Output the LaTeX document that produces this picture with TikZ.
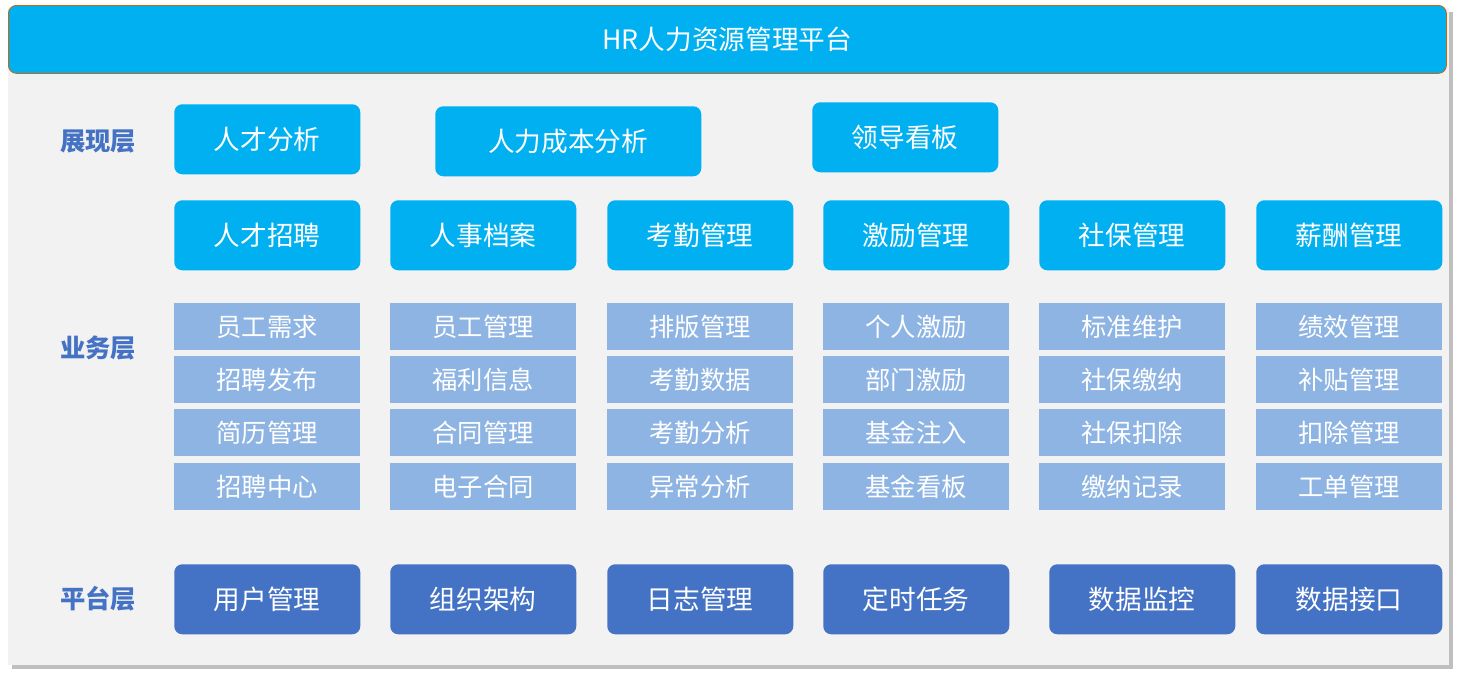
\documentclass[tikz,border=0pt]{standalone}
\usepackage{fontspec}
\newfontfamily\cjk{Noto Sans CJK SC}
\definecolor{cyanb}{HTML}{00B0F0}
\definecolor{lightb}{HTML}{8EB4E3}
\definecolor{darkb}{HTML}{4472C4}
\definecolor{panel}{HTML}{F2F2F2}
\begin{document}
\begin{tikzpicture}[x=0.75pt,y=-0.75pt,
  box/.style={rounded corners=6pt,fill=cyanb,text=white,font=\cjk\fontsize{20}{24}\selectfont,anchor=north west,inner sep=0pt},
  sub/.style={fill=lightb,text=white,font=\cjk\fontsize{19}{22}\selectfont,anchor=north west,inner sep=0pt,minimum height=35.25pt},
  plat/.style={box,fill=darkb},
  lay/.style={text=darkb,font=\cjk\bfseries\fontsize{19}{22}\selectfont}]
\useasboundingbox (0,0) rectangle (1457,675);
\fill[black!25] (12,12) rectangle (1453,669);
\fill[panel] (8,8) rectangle (1449,665);
\node[rounded corners=6pt,fill=cyanb,draw=orange!80!black,line width=0.6pt,minimum width=1078.5pt,minimum height=51pt,anchor=north west,inner sep=0pt,text=white,font=\cjk\fontsize{20}{24}\selectfont] (title) at (8,5) {HR人力资源管理平台};
\node[lay] (l1) at (98,142) {展现层};
\node[lay] (l2) at (98,348) {业务层};
\node[lay] (l3) at (98,599) {平台层};
\node[box,minimum width=139.5pt,minimum height=52.5pt] (d1) at (174,104) {人才分析};
\node[box,minimum width=199.5pt,minimum height=52.5pt] (d2) at (435,106) {人力成本分析};
\node[box,minimum width=139.5pt,minimum height=52.5pt] (d3) at (812,102) {领导看板};
\foreach \x/\h/\a/\b/\c/\d/\p/\n in {
 174/人才招聘/员工需求/招聘发布/简历管理/招聘中心/用户管理/1,
 390/人事档案/员工管理/福利信息/合同管理/电子合同/组织架构/2,
 607/考勤管理/排版管理/考勤数据/考勤分析/异常分析/日志管理/3,
 823/激励管理/个人激励/部门激励/基金注入/基金看板/定时任务/4,
 1039/社保管理/标准维护/社保缴纳/社保扣除/缴纳记录/数据监控/5,
 1256/薪酬管理/绩效管理/补贴管理/扣除管理/工单管理/数据接口/6}{
  \node[box,minimum width=139.5pt,minimum height=52.5pt] (h\n) at (\x,200) {\h};
  \node[sub,minimum width=139.5pt] (sa\n) at (\x,303) {\a};
  \node[sub,minimum width=139.5pt] (sb\n) at (\x,356) {\b};
  \node[sub,minimum width=139.5pt] (sc\n) at (\x,409) {\c};
  \node[sub,minimum width=139.5pt] (sd\n) at (\x,463) {\d};
}
\foreach \x/\p/\n in {174/用户管理/1,390/组织架构/2,607/日志管理/3,823/定时任务/4,1049/数据监控/5,1256/数据接口/6}{
  \node[plat,minimum width=139.5pt,minimum height=52.5pt] (p\n) at (\x,564) {\p};
}
\end{tikzpicture}
\end{document}
